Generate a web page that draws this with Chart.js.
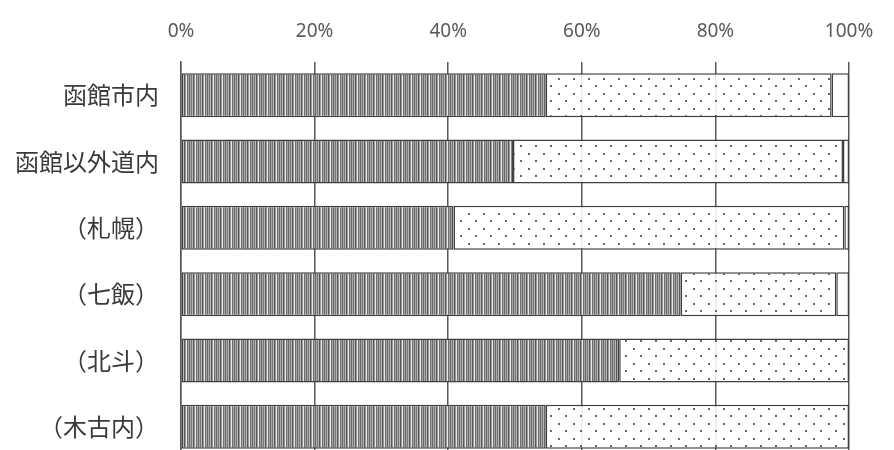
<!DOCTYPE html>
<html lang="ja">
<head>
<meta charset="utf-8">
<script src="https://cdn.jsdelivr.net/npm/chart.js@4/dist/chart.umd.min.js"></script>
<style>
  html, body { margin: 0; padding: 0; background: #fff; overflow: hidden; }
</style>
</head>
<body>
<canvas id="barChart" width="894" height="460"></canvas>
<script>
// Datos del gráfico
const categorias = ['函館市内', '函館以外道内', '（札幌）', '（七飯）', '（北斗）', '（木古内）'];
const serie1 = [54.6, 49.7, 40.8, 74.8, 65.6, 54.6];
const serie2 = [42.8, 49.4, 58.5, 23.3, 34.4, 45.4];
const serie3 = [2.6, 0.9, 0.7, 1.9, 0, 0];
const ticksX = [0, 20, 40, 60, 80, 100];

// Patrón de rayas verticales (serie 1)
function rayas() {
    const c = document.createElement('canvas');
    c.width = 9; c.height = 4;
    const g = c.getContext('2d');
    const cols = ['#6a6a6a', '#a8a8a8', '#777', '#b8b8b8', '#555', '#999', '#e8e8e8', '#707070', '#a4a4a4'];
    cols.forEach((col, i) => { g.fillStyle = col; g.fillRect(i, 0, 1, 4); });
    return g.createPattern(c, 'repeat');
}

// Patrón de puntos (serie 2)
function puntos() {
    const c = document.createElement('canvas');
    c.width = 15; c.height = 15;
    const g = c.getContext('2d');
    g.fillStyle = 'rgba(255,255,255,0.88)';
    g.fillRect(0, 0, 15, 15);
    g.fillStyle = '#666';
    g.fillRect(3, 3, 2, 2);
    g.fillRect(10, 10, 2, 2);
    return g.createPattern(c, 'repeat');
}

const comun = {
    borderColor: '#404040',
    borderWidth: 1.5,
    borderSkipped: false,
    barPercentage: 0.664,
    categoryPercentage: 1
};

const ctx = document.getElementById('barChart').getContext('2d');
new Chart(ctx, {
    type: 'bar',
    data: {
        labels: categorias,
        datasets: [
            Object.assign({ data: serie1, backgroundColor: rayas() }, comun),
            Object.assign({ data: serie2, backgroundColor: puntos() }, comun),
            Object.assign({ data: serie3, backgroundColor: '#fff' }, comun)
        ]
    },
    options: {
        indexAxis: 'y',
        responsive: false,
        animation: false,
        layout: { padding: { top: 0, right: 45, bottom: 0, left: 0 } },
        scales: {
            x: {
                position: 'top',
                stacked: true,
                min: 0,
                max: 100,
                afterBuildTicks: s => { s.ticks = ticksX.map(v => ({ value: v })); },
                afterFit: s => { s.height = 62; },
                grid: { color: '#595959', lineWidth: 1.5, drawTicks: false },
                border: { display: false },
                ticks: {
                    padding: 19,
                    color: '#595959',
                    font: { family: '"Noto Sans", sans-serif', size: 19 },
                    callback: v => v + '%'
                }
            },
            y: {
                stacked: true,
                // ancho fijo y sin relleno extra arriba/abajo
                afterFit: s => { s.width = 181; s.paddingTop = 0; s.paddingBottom = 0; },
                grid: { display: false },
                border: { display: true, color: '#595959', width: 1.5 },
                ticks: {
                    padding: 14,
                    color: '#3a3a3a',
                    font: { family: '"Noto Sans CJK JP", sans-serif', size: 24 }
                }
            }
        },
        plugins: {
            legend: { display: false },
            tooltip: { enabled: false }
        }
    }
});
</script>
</body>
</html>
